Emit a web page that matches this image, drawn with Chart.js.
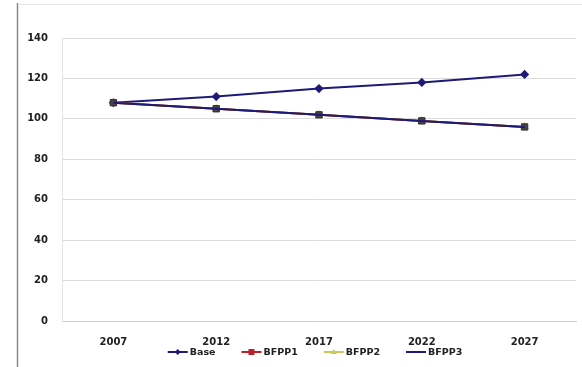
<!DOCTYPE html>
<html>
<head>
<meta charset="utf-8">
<script src="https://cdn.jsdelivr.net/npm/chart.js@4.4.1/dist/chart.umd.min.js"></script>
<style>
  html, body { margin: 0; padding: 0; background: #fff; }
  #wrap { width: 582px; height: 367px; position: relative; }
</style>
</head>
<body>
<div id="wrap"><canvas id="c" width="582" height="367"></canvas></div>
<script>
// Years on the horizontal axis
const years = ['2007', '2012', '2017', '2022', '2027'];
// Index values per scenario
const base  = [108, 111, 115, 118, 122];
const bfpp1 = [108, 105, 102, 99, 96];
const bfpp2 = [108, 105, 102, 99, 96];
const bfpp3 = [108, 105, 102, 99, 96];
// Value axis ticks
const yMin = 0, yMax = 140, yStep = 20;

const FONT = 'DejaVu Sans';

// Excel-style legend: short line with the series marker on it, then the name
const lineLegend = {
  id: 'lineLegend',
  afterDraw(chart) {
    const ctx = chart.ctx;
    const ca = chart.chartArea;
    ctx.save();
    ctx.font = 'bold 9.5px "' + FONT + '"';
    const lineLen = 20, gapText = 2, gapItem = 26;
    const items = chart.data.datasets.map(ds => ({
      ds, w: lineLen + gapText + ctx.measureText(ds.label).width
    }));
    const total = items.reduce((s, it) => s + it.w, 0) + gapItem * (items.length - 1);
    let x = (ca.left + ca.right) / 2 - total / 2 - 4;
    const y = 352;
    items.forEach(it => {
      const ds = it.ds;
      ctx.strokeStyle = ds.legendColor;
      ctx.lineWidth = 2;
      ctx.beginPath();
      ctx.moveTo(x, y);
      ctx.lineTo(x + lineLen, y);
      ctx.stroke();
      const mx = x + lineLen / 2;
      ctx.fillStyle = ds.legendColor;
      if (ds.pointStyle === 'rect') {
        ctx.fillRect(mx - 3, y - 3, 6, 6);
      } else if (ds.pointStyle === 'rectRot') {
        ctx.beginPath();
        ctx.moveTo(mx, y - 3); ctx.lineTo(mx + 3, y);
        ctx.lineTo(mx, y + 3); ctx.lineTo(mx - 3, y);
        ctx.closePath(); ctx.fill();
      } else if (ds.pointStyle === 'triangle') {
        ctx.beginPath();
        ctx.moveTo(mx, y - 3); ctx.lineTo(mx + 3, y + 2);
        ctx.lineTo(mx - 3, y + 2); ctx.closePath(); ctx.fill();
      }
      ctx.fillStyle = '#222';
      ctx.textBaseline = 'middle';
      ctx.textAlign = 'left';
      ctx.fillText(ds.label, x + lineLen + gapText, y + 0.5);
      x += it.w + gapItem;
    });
    ctx.restore();
  }
};

// Outer frame: left edge and faint top edge of the chart box
const frame = {
  id: 'frame',
  beforeDraw(chart) {
    const ctx = chart.ctx;
    ctx.save();
    ctx.strokeStyle = '#8a8a8a';
    ctx.lineWidth = 1.5;
    ctx.beginPath();
    ctx.moveTo(17.5, 3);
    ctx.lineTo(17.5, 367);
    ctx.stroke();
    ctx.strokeStyle = '#e6e6e6';
    ctx.lineWidth = 1;
    ctx.beginPath();
    ctx.moveTo(18, 4.5);
    ctx.lineTo(582, 4.5);
    ctx.stroke();
    ctx.restore();
  }
};

const navy = '#1e1a78';

new Chart(document.getElementById('c'), {
  type: 'line',
  data: {
    labels: years,
    datasets: [
      {
        label: 'Base', data: base, order: 3,
        borderColor: navy, legendColor: navy, borderWidth: 2,
        pointStyle: 'rectRot', pointRadius: 3.2,
        pointBackgroundColor: navy, pointBorderColor: navy, tension: 0
      },
      {
        label: 'BFPP1', data: bfpp1, order: 1,
        borderColor: '#8a2a2a', legendColor: '#b8222a', borderWidth: 2,
        pointStyle: 'rect', pointRadius: 4.5,
        pointBackgroundColor: '#4a4242', pointBorderColor: '#333030', pointBorderWidth: 1,
        tension: 0
      },
      {
        label: 'BFPP2', data: bfpp2, order: 2,
        borderColor: '#c9c95a', legendColor: '#c9c95a', borderWidth: 2,
        pointStyle: 'triangle', pointRadius: 3,
        pointBackgroundColor: '#c9c95a', pointBorderColor: '#c9c95a', tension: 0
      },
      {
        label: 'BFPP3', data: bfpp3, order: 0,
        borderColor: navy, legendColor: navy, borderWidth: 2,
        pointRadius: 0, pointStyle: false, tension: 0
      }
    ]
  },
  options: {
    responsive: false,
    animation: false,
    devicePixelRatio: 1,
    layout: { padding: { left: 17, right: 5, top: 38, bottom: 0 } },
    plugins: {
      legend: { display: false },
      tooltip: { enabled: false }
    },
    scales: {
      x: {
        type: 'category',
        offset: true,
        afterFit(scale) { scale.height = 46; },
        grid: { display: false, drawTicks: false },
        border: { display: true, color: '#d0d0d0', width: 1 },
        ticks: {
          padding: 15,
          color: '#222',
          font: { family: FONT, size: 10, weight: 'bold' },
          maxRotation: 0
        }
      },
      y: {
        min: yMin, max: yMax,
        afterFit(scale) { scale.width = 45; },
        afterBuildTicks(scale) {
          const t = [];
          for (let v = yMin; v <= yMax; v += yStep) t.push({ value: v });
          scale.ticks = t;
        },
        grid: { color: '#dcdcdc', lineWidth: 1, drawTicks: false },
        border: { display: true, color: '#e2e2e2', width: 1 },
        ticks: {
          padding: 14,
          color: '#222',
          font: { family: FONT, size: 10, weight: 'bold' }
        }
      }
    }
  },
  plugins: [frame, lineLegend]
});
</script>
</body>
</html>
